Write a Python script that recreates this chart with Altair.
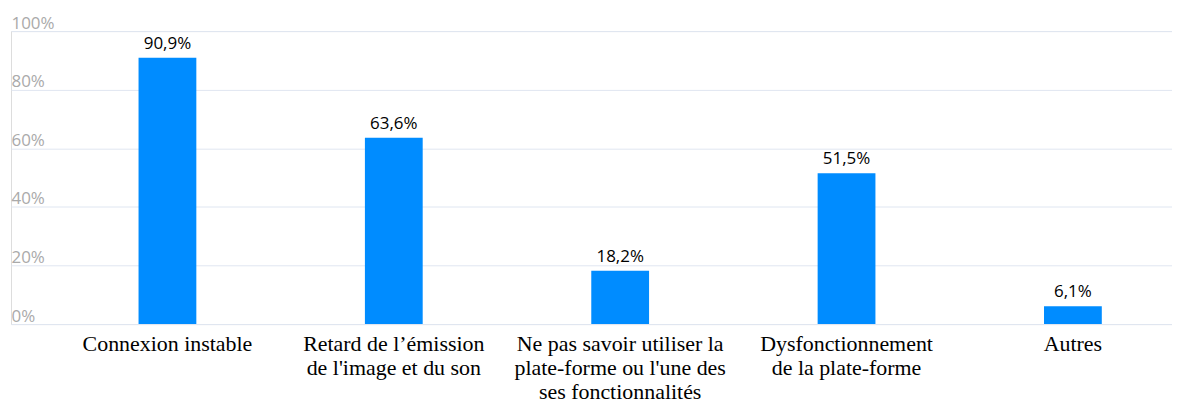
import altair as alt
import pandas as pd

categories = [
    "Connexion instable",
    "Retard de l’émission\nde l'image et du son",
    "Ne pas savoir utiliser la\nplate-forme ou l'une des\nses fonctionnalités",
    "Dysfonctionnement\nde la plate-forme",
    "Autres",
]
values = [90.9, 63.6, 18.2, 51.5, 6.1]
y_ticks = [0, 20, 40, 60, 80, 100]

df = pd.DataFrame({"cat": categories, "val": values})

x = alt.X(
    "cat:N",
    sort=categories,
    title=None,
    scale=alt.Scale(paddingInner=0.7447, paddingOuter=0.4368, align=0.645),
    axis=alt.Axis(
        domain=False,
        ticks=False,
        tickSize=0,
        labelAngle=0,
        labelFont="Liberation Serif",
        labelFontSize=22,
        labelColor="#000000",
        labelLineHeight=24,
        labelBaseline="alphabetic",
        labelPadding=26.5,
        labelExpr="split(datum.label, '\\n')",
        labelLimit=400,
    ),
)

y = alt.Y(
    "val:Q",
    title=None,
    scale=alt.Scale(domain=[0, 100], nice=False),
    axis=alt.Axis(
        values=y_ticks,
        domain=False,
        ticks=False,
        tickSize=0,
        grid=True,
        gridColor="#e0e6f1",
        gridWidth=1,
        labelFont="Open Sans",
        labelFontSize=17,
        labelColor="#aaaaaa",
        labelAlign="left",
        labelBaseline="alphabetic",
        labelOffset=-3,
        labelPadding=0,
        labelExpr="datum.value + '%'",
    ),
)

bars = alt.Chart(df).mark_bar(color="#008cff").encode(x=x, y=y)

labels = (
    alt.Chart(df)
    .transform_calculate(lbl="replace(format(datum.val, '.1f'), '.', ',') + '%'")
    .mark_text(font="Open Sans", fontSize=17, color="#000000", baseline="alphabetic", dy=-9)
    .encode(x=alt.X("cat:N", sort=categories), y="val:Q", text="lbl:N")
)

chart = (
    alt.layer(bars, labels)
    .properties(
        width=1165,
        height=294,
        autosize=alt.AutoSizeParams(type="none"),
        padding={"left": 3, "top": 22.5, "right": 0, "bottom": 76},
    )
    .configure_view(stroke=None)
    .configure(background="#ffffff")
)

chart.save("out.html", embed_options={"renderer": "svg", "actions": False})
